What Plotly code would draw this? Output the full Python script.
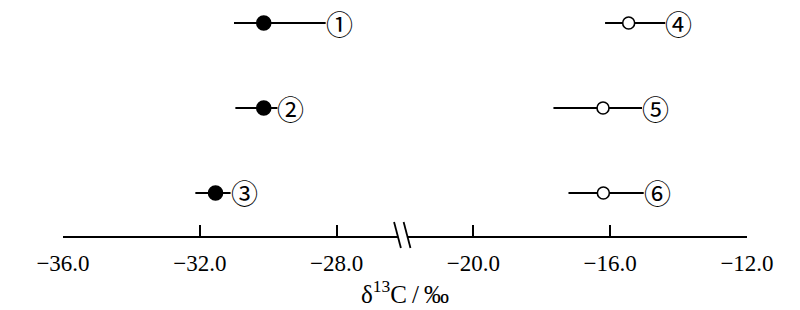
import plotly.graph_objects as go

labels = ["①", "②", "③", "④", "⑤", "⑥"]
means = [-30.13, -30.13, -31.54, -15.46, -16.21, -16.20]
lows = [-31.00, -30.96, -32.13, -16.15, -17.66, -17.22]
highs = [-28.32, -29.73, -31.10, -14.39, -15.07, -15.02]
rows = [3, 2, 1, 3, 2, 1]
filled = [True, True, True, False, False, False]

tick_values = [-36, -32, -28, -20, -16, -12]
tick_text = ["−36.0", "−32.0", "−28.0", "−20.0", "−16.0", "−12.0"]

GAP_AT = -24.0
GAP = 4.0


def t(v):
    return v - GAP if v > GAP_AT else v


serif = "Liberation Serif, Times New Roman, serif"
fig = go.Figure()

for i in range(len(labels)):
    m = t(means[i])
    fig.add_trace(go.Scatter(
        x=[m], y=[rows[i]], mode="markers",
        marker=dict(
            size=14 if filled[i] else 12,
            color="black" if filled[i] else "white",
            line=dict(color="black", width=1.6),
        ),
        error_x=dict(
            type="data", symmetric=False,
            array=[t(highs[i]) - m], arrayminus=[m - t(lows[i])],
            color="black", thickness=1.8, width=0,
        ),
        showlegend=False, hoverinfo="skip",
    ))
    fig.add_annotation(
        x=t(highs[i]), y=rows[i], text=labels[i], showarrow=False,
        xanchor="left", yanchor="middle", xshift=-2,
        font=dict(family="Noto Sans CJK SC", size=27, color="black"),
    )

# axis break marks (between -28 and -20 on the compressed axis)
bx = (t(-28.0) + t(-20.0)) / 2
fig.add_shape(type="rect", xref="x", yref="paper", x0=bx - 0.2, x1=bx + 0.08,
              y0=-0.01, y1=0.01, fillcolor="white", line=dict(width=0), layer="above")
for dx in (-0.22, 0.06):
    fig.add_shape(type="line", xref="x", yref="paper",
                  x0=bx + dx - 0.1, x1=bx + dx + 0.1, y0=0.062, y1=-0.053,
                  line=dict(color="black", width=1.8), layer="above")

fig.update_layout(
    width=800, height=310,
    margin=dict(l=63, r=53, t=10, b=74),
    plot_bgcolor="white", paper_bgcolor="white",
    xaxis=dict(
        range=[-36, -16], tickvals=[t(v) for v in tick_values], ticktext=tick_text,
        showline=True, linecolor="black", linewidth=1.5,
        ticks="inside", ticklen=11, tickwidth=1.5, tickcolor="black",
        tickfont=dict(family=serif, size=23, color="black"),
        ticklabelstandoff=6,
        showgrid=False, zeroline=False,
        title=dict(text="δ<sup>13</sup>C\u2009/\u2009‰", font=dict(family=serif, size=25, color="black"),
                   standoff=7),
    ),
    yaxis=dict(range=[0.494, 3.153], visible=False, showgrid=False, zeroline=False),
)

fig.write_html("out.html")
